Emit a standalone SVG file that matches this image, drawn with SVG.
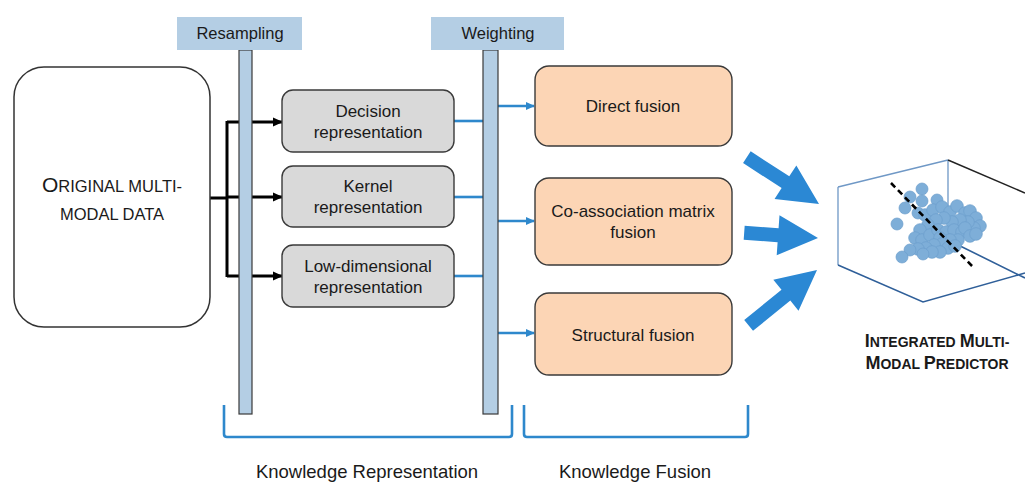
<svg xmlns="http://www.w3.org/2000/svg" width="1025" height="482" viewBox="0 0 1025 482">
<style>
  text { font-family: "Liberation Sans", Arial, sans-serif; fill: #1a1a1a; }
  .hdr { fill: #b4cee4; }
  .hdrt { font-size: 16.5px; text-anchor: middle; }
  .bar { fill: #b4cee4; stroke: #3a3a3a; stroke-width: 1.2; }
  .gbox { fill: #d9d9d9; stroke: #3a3a3a; stroke-width: 1.4; }
  .obox { fill: #fcd5b5; stroke: #3a3a3a; stroke-width: 1.4; }
  .bt { font-size: 17px; text-anchor: middle; }
  .blk { stroke: #000; stroke-width: 3; fill: none; }
  .blu { stroke: #2e88cc; stroke-width: 2.6; fill: none; }
  .big { fill: #2b88d4; }
  .brk { stroke: #2e88cc; stroke-width: 2.6; fill: none; stroke-linejoin: round; }
  .lbl { font-size: 18.5px; text-anchor: middle; }
  .dot { fill: #7eaed8; stroke: #6c9ecb; stroke-width: 0.7; }
</style>
<defs>
  <marker id="ahk" viewBox="0 0 10 10" refX="9" refY="5" markerWidth="10" markerHeight="10" markerUnits="userSpaceOnUse" orient="auto">
    <path d="M0,0.5 L10,5 L0,9.5 z" fill="#000"/>
  </marker>
  <marker id="ahb" viewBox="0 0 10 10" refX="9" refY="5" markerWidth="9" markerHeight="9" markerUnits="userSpaceOnUse" orient="auto">
    <path d="M0,0.5 L10,5 L0,9.5 z" fill="#2e88cc"/>
  </marker>
</defs>

<g id="connectors">
  <path class="blk" d="M210,198 H227 M227,121 V277"/>
  <path class="blk" d="M227,122 H282" marker-end="url(#ahk)"/>
  <path class="blk" d="M227,197 H282" marker-end="url(#ahk)"/>
  <path class="blk" d="M227,276 H282" marker-end="url(#ahk)"/>
  <path class="blu" d="M454,121 H484"/>
  <path class="blu" d="M454,197 H484"/>
  <path class="blu" d="M454,276 H484"/>
  <path class="blu" d="M498,106 H534" marker-end="url(#ahb)"/>
  <path class="blu" d="M498,221 H534" marker-end="url(#ahb)"/>
  <path class="blu" d="M498,333 H534" marker-end="url(#ahb)"/>
  <polygon class="big" transform="translate(819,204) rotate(33)" points="0,0 -40,-20 -40,-7 -86,-7 -86,7 -40,7 -40,20"/>
  <polygon class="big" transform="translate(818,238) rotate(4)" points="0,0 -40,-20 -40,-7 -74,-7 -74,7 -40,7 -40,20"/>
  <polygon class="big" transform="translate(817,270) rotate(-39)" points="0,0 -40,-20 -40,-7 -88,-7 -88,7 -40,7 -40,20"/>
</g>

<g id="original-data">
  <rect x="14" y="67" width="196" height="260" rx="30" ry="30" fill="#fff" stroke="#333" stroke-width="1.5"/>
  <text x="112" y="192" text-anchor="middle" font-size="16.5"><tspan font-size="21">O</tspan>RIGINAL MULTI-</text>
  <text x="112" y="220" text-anchor="middle" font-size="16.5">MODAL DATA</text>
</g>

<g id="resampling">
  <rect class="bar" x="239" y="50" width="13" height="364"/>
  <rect class="hdr" x="177" y="17" width="125" height="33"/>
  <text class="hdrt" x="240" y="39">Resampling</text>
</g>

<g id="weighting">
  <rect class="bar" x="483" y="50" width="15" height="364"/>
  <rect class="hdr" x="431" y="17" width="133" height="33"/>
  <text class="hdrt" x="498" y="39">Weighting</text>
</g>

<g id="decision-representation">
  <rect class="gbox" x="282" y="90" width="172" height="62" rx="11"/>
  <text class="bt" x="368" y="117">Decision</text>
  <text class="bt" x="368" y="138">representation</text>
</g>
<g id="kernel-representation">
  <rect class="gbox" x="282" y="166" width="172" height="61" rx="11"/>
  <text class="bt" x="368" y="192">Kernel</text>
  <text class="bt" x="368" y="213">representation</text>
</g>
<g id="low-dimensional-representation">
  <rect class="gbox" x="282" y="245" width="172" height="62" rx="11"/>
  <text class="bt" x="368" y="272">Low-dimensional</text>
  <text class="bt" x="368" y="293">representation</text>
</g>

<g id="direct-fusion">
  <rect class="obox" x="535" y="66" width="197" height="80" rx="14"/>
  <text class="bt" x="633" y="112">Direct fusion</text>
</g>
<g id="coassociation-fusion">
  <rect class="obox" x="535" y="178" width="197" height="87" rx="14"/>
  <text class="bt" x="633" y="217">Co-association matrix</text>
  <text class="bt" x="633" y="238">fusion</text>
</g>
<g id="structural-fusion">
  <rect class="obox" x="535" y="293" width="197" height="82" rx="14"/>
  <text class="bt" x="633" y="341">Structural fusion</text>
</g>

<g id="predictor">
  <path d="M838,187 L948,160 M838,187 V265 M948,160 V240" stroke="#6f98c6" stroke-width="1.3" fill="none"/>
  <path d="M948,160 L1025,193" stroke="#222" stroke-width="1.5" fill="none"/>
  <path d="M838,265 L923,302 L1025,273 M948,240 L1025,278" stroke="#2f5f99" stroke-width="1.6" fill="none"/>
  <g id="cloud">
    <circle class="dot" cx="897" cy="224" r="6"/>
    <circle class="dot" cx="910" cy="197" r="6"/>
    <circle class="dot" cx="922" cy="189" r="6"/>
    <circle class="dot" cx="922" cy="201" r="6"/>
    <circle class="dot" cx="905" cy="208" r="6"/>
    <circle class="dot" cx="937" cy="200" r="6"/>
    <circle class="dot" cx="918" cy="213" r="6"/>
    <circle class="dot" cx="925" cy="215" r="6.3"/>
    <circle class="dot" cx="933" cy="210" r="6.3"/>
    <circle class="dot" cx="942" cy="207" r="6.3"/>
    <circle class="dot" cx="950" cy="212" r="6.3"/>
    <circle class="dot" cx="957" cy="206" r="6.3"/>
    <circle class="dot" cx="965" cy="213" r="6.3"/>
    <circle class="dot" cx="970" cy="211" r="6.3"/>
    <circle class="dot" cx="976" cy="218" r="6.3"/>
    <circle class="dot" cx="980" cy="226" r="6.3"/>
    <circle class="dot" cx="974" cy="228" r="6.3"/>
    <circle class="dot" cx="968" cy="222" r="6.3"/>
    <circle class="dot" cx="960" cy="220" r="6.3"/>
    <circle class="dot" cx="952" cy="222" r="6.3"/>
    <circle class="dot" cx="944" cy="218" r="6.3"/>
    <circle class="dot" cx="936" cy="220" r="6.3"/>
    <circle class="dot" cx="928" cy="225" r="6.3"/>
    <circle class="dot" cx="920" cy="230" r="6.3"/>
    <circle class="dot" cx="915" cy="238" r="6.3"/>
    <circle class="dot" cx="922" cy="240" r="6.3"/>
    <circle class="dot" cx="930" cy="235" r="6.3"/>
    <circle class="dot" cx="938" cy="230" r="6.3"/>
    <circle class="dot" cx="946" cy="232" r="6.3"/>
    <circle class="dot" cx="954" cy="230" r="6.3"/>
    <circle class="dot" cx="962" cy="232" r="6.3"/>
    <circle class="dot" cx="965" cy="228" r="6.3"/>
    <circle class="dot" cx="970" cy="236" r="6.3"/>
    <circle class="dot" cx="976" cy="234" r="6.3"/>
    <circle class="dot" cx="958" cy="240" r="6.3"/>
    <circle class="dot" cx="950" cy="240" r="6.3"/>
    <circle class="dot" cx="940" cy="238" r="6.3"/>
    <circle class="dot" cx="942" cy="244" r="6.3"/>
    <circle class="dot" cx="934" cy="245" r="6.3"/>
    <circle class="dot" cx="926" cy="248" r="6.3"/>
    <circle class="dot" cx="918" cy="249" r="6.3"/>
    <circle class="dot" cx="910" cy="250" r="6"/>
    <circle class="dot" cx="948" cy="248" r="6.3"/>
    <circle class="dot" cx="955" cy="246" r="6.3"/>
    <circle class="dot" cx="940" cy="252" r="6.3"/>
    <circle class="dot" cx="932" cy="252" r="6.3"/>
    <circle class="dot" cx="923" cy="254" r="6"/>
    <circle class="dot" cx="902" cy="257" r="6"/>
  </g>
  <path d="M891,183 L973,267" stroke="#000" stroke-width="2.6" stroke-dasharray="6,4" fill="none"/>
  <text x="937" y="347" text-anchor="middle" font-size="14" font-weight="bold"><tspan font-size="18">I</tspan>NTEGRATED <tspan font-size="18">M</tspan>ULTI-</text>
  <text x="937" y="369" text-anchor="middle" font-size="14" font-weight="bold"><tspan font-size="18">M</tspan>ODAL <tspan font-size="18">P</tspan>REDICTOR</text>
</g>

<g id="knowledge-representation">
  <path class="brk" d="M224,405 V434 Q224,437 227,437 H509 Q512,437 512,434 V405"/>
  <text class="lbl" x="367" y="478">Knowledge Representation</text>
</g>
<g id="knowledge-fusion">
  <path class="brk" d="M524,405 V434 Q524,437 527,437 H745 Q748,437 748,434 V405"/>
  <text class="lbl" x="635" y="478">Knowledge Fusion</text>
</g>
</svg>
